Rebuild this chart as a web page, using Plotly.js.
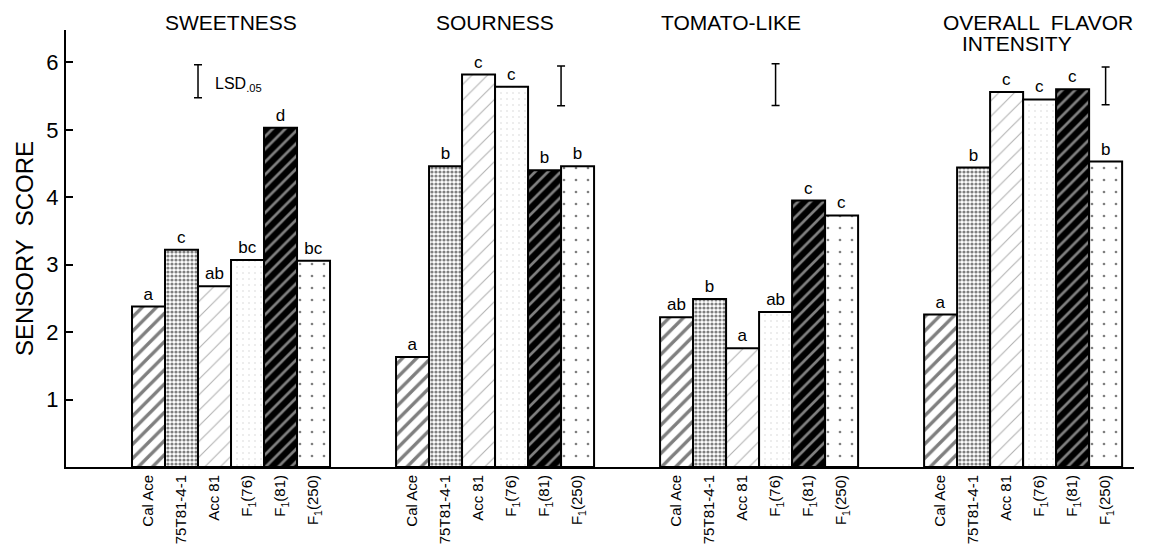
<!DOCTYPE html>
<html>
<head>
<meta charset="utf-8">
<script src="https://cdn.plot.ly/plotly-3.0.1.min.js"></script>
<style>html,body{margin:0;padding:0;background:#fff;}#chart{width:1161px;height:548px;}</style>
</head>
<body>
<div id="chart"></div>
<script>
// ---- data ----
const attributes = ['SWEETNESS', 'SOURNESS', 'TOMATO-LIKE', 'OVERALL  FLAVOR', 'INTENSITY'];
const cultivars = ['Cal Ace', '75T81-4-1', 'Acc 81', 'F<sub>1</sub>(76)', 'F<sub>1</sub>(81)', 'F<sub>1</sub>(250)'];
// values per cultivar: [sweetness, sourness, tomato-like, overall flavor intensity]
const calAce = [2.38, 1.63, 2.22, 2.26];
const t75T81 = [3.22, 4.46, 2.49, 4.44];
const acc81  = [2.68, 5.82, 1.76, 5.56];
const f1_76  = [3.07, 5.64, 2.30, 5.45];
const f1_81  = [5.03, 4.40, 3.95, 5.60];
const f1_250 = [3.06, 4.46, 3.73, 4.53];
// significance letters
const calAceL = ['a', 'a', 'ab', 'a'];
const t75T81L = ['c', 'b', 'b', 'b'];
const acc81L  = ['ab', 'c', 'a', 'c'];
const f1_76L  = ['bc', 'c', 'ab', 'c'];
const f1_81L  = ['d', 'b', 'c', 'c'];
const f1_250L = ['bc', 'b', 'c', 'b'];
// LSD.05 bars (center and half-length, sensory score units)
const lsdCenter = [5.72, 5.65, 5.67, 5.65];
const lsdHalf   = [0.245, 0.295, 0.31, 0.28];
const yTicks = [1, 2, 3, 4, 5, 6];

// ---- layout helpers ----
const series = [calAce, t75T81, acc81, f1_76, f1_81, f1_250];
const letters = [calAceL, t75T81L, acc81L, f1_76L, f1_81L, f1_250L];
const groupStart = g => 2 + 8 * g;
const barX = (g, i) => groupStart(g) + i + 0.5;
const lsdSlot = [4.0, 15.0, 21.5, 31.5];

const patterns = [
  {shape: '/', size: 10, solidity: 0.34, fgcolor: '#000', bgcolor: '#fff'},
  {shape: '.', size: 4, solidity: 0.5, fgcolor: '#000', bgcolor: '#fff'},
  {shape: '/', size: 11, solidity: 0.1, fgcolor: '#666', bgcolor: '#fff'},
  {shape: '.', size: 6, solidity: 0.06, fgcolor: '#aaa', bgcolor: '#fff'},
  {shape: '/', size: 9, solidity: 0.3, fgcolor: '#fff', bgcolor: '#000'},
  {shape: '.', size: 12, solidity: 0.04, fgcolor: '#000', bgcolor: '#fff'}
];

const font = 'Liberation Sans, Arial, sans-serif';
const traces = [];
series.forEach((vals, i) => {
  traces.push({
    type: 'bar',
    x: vals.map((v, g) => barX(g, i)),
    y: vals,
    width: 1,
    text: letters[i],
    textposition: 'outside',
    constraintext: 'none',
    cliponaxis: false,
    textfont: {family: font, size: 17, color: '#000'},
    marker: {
      color: patterns[i].bgcolor,
      line: {color: '#000', width: 2},
      pattern: Object.assign({fillmode: 'overlay'}, patterns[i])
    },
    hoverinfo: 'skip'
  });
});
traces.push({
  type: 'scatter', mode: 'markers',
  x: lsdSlot, y: lsdCenter,
  marker: {size: 1, color: 'rgba(0,0,0,0)'},
  error_y: {type: 'data', array: lsdHalf, visible: true, color: '#000', thickness: 1.5, width: 4},
  cliponaxis: false, hoverinfo: 'skip'
});

const tickvals = [], ticktext = [];
for (let g = 0; g < 4; g++) for (let i = 0; i < 6; i++) { tickvals.push(barX(g, i)); ticktext.push(cultivars[i]); }

const titleFont = {family: font, size: 21, color: '#000'};
const ann = (text, x, y) => ({text: text, x: x, y: y, xref: 'x', yref: 'paper', xanchor: 'center', yanchor: 'middle', showarrow: false, font: titleFont});
const layout = {
  width: 1161, height: 548,
  margin: {l: 66, r: 27, t: 30, b: 81},
  paper_bgcolor: '#fff', plot_bgcolor: '#fff',
  showlegend: false, barmode: 'overlay',
  xaxis: {
    range: [0, 32.36], showline: true, linewidth: 2, linecolor: '#000',
    showgrid: false, zeroline: false, ticks: '',
    tickvals: tickvals, ticktext: ticktext, tickangle: -90,
    tickfont: {family: font, size: 15, color: '#000'}
  },
  yaxis: {
    range: [0, 6.48], showline: true, linewidth: 2, linecolor: '#000',
    showgrid: false, zeroline: false, ticks: 'inside', ticklen: 7, tickwidth: 2, tickcolor: '#000',
    tickvals: yTicks, tickfont: {family: font, size: 22, color: '#000'},
    ticklabelstandoff: 1,
    title: {text: 'SENSORY  SCORE', font: {family: font, size: 24, color: '#000'}, standoff: 6}
  },
  annotations: [
    ann(attributes[0], 5, 1.018),
    ann(attributes[1], 13, 1.018),
    ann(attributes[2], 20.15, 1.018),
    ann(attributes[3], 29.45, 1.018),
    ann(attributes[4], 28.8, 0.97),
    {text: 'LSD<sub>.05</sub>', x: 4.45, y: lsdCenter[0] - 0.05, xref: 'x', yref: 'y', xanchor: 'left', yanchor: 'middle', showarrow: false,
     font: {family: font, size: 16, color: '#000'}}
  ]
};

Plotly.newPlot('chart', traces, layout, {staticPlot: true, displayModeBar: false});
</script>
</body>
</html>
